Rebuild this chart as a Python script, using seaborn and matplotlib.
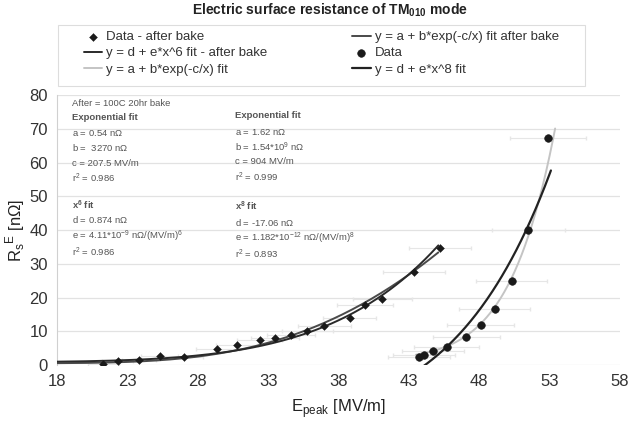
import numpy as np
import pandas as pd
import matplotlib
matplotlib.use("Agg")
import matplotlib.pyplot as plt
from matplotlib.patches import Rectangle
import seaborn as sns

# Measured data after the 100C 20hr bake
e_after = [21.3, 22.3, 23.8, 25.3, 27.0, 29.4, 30.8, 32.4, 33.5, 34.6,
           35.8, 37.0, 38.8, 39.9, 41.1, 43.4, 45.2]
rs_after = [0.3, 1.3, 1.4, 2.7, 2.4, 4.9, 5.9, 7.4, 8.0, 8.8,
            10.2, 11.5, 13.8, 17.8, 19.5, 27.5, 34.6]
xerr_after = [1.1, 1.1, 1.2, 1.3, 1.4, 1.5, 1.5, 1.6, 1.7, 1.7,
              1.8, 1.9, 1.9, 2.0, 2.1, 2.2, 2.2]

# Measured data before bake
e_before = [43.7, 44.1, 44.7, 45.7, 47.1, 48.1, 49.1, 50.3, 51.5, 52.9]
rs_before = [2.5, 3.1, 4.1, 5.4, 8.3, 12.0, 16.5, 24.9, 39.9, 67.4]
xerr_before = [2.2, 2.2, 2.2, 2.3, 2.4, 2.4, 2.5, 2.5, 2.6, 2.7]

# Fit parameters
exp_after = dict(a=0.54, b=3270.0, c=207.5)
pow6_after = dict(d=0.874, e=4.11e-9)
exp_before = dict(a=1.62, b=1.54e9, c=904.0)
pow8_before = dict(d=-17.06, e=1.182e-12)

x_ticks = [18, 23, 28, 33, 38, 43, 48, 53, 58]
y_ticks = [0, 10, 20, 30, 40, 50, 60, 70, 80]

sns.set_style("white")
plt.rcParams["font.family"] = ["Liberation Sans", "DejaVu Sans"]
plt.rcParams["mathtext.fontset"] = "custom"
plt.rcParams["mathtext.rm"] = "Liberation Sans"
plt.rcParams["mathtext.bf"] = "Liberation Sans:bold"

W, H = 641, 428
fig = plt.figure(figsize=(W / 100, H / 100), dpi=100)
ax = fig.add_axes([0.089, 0.147, 0.878, 0.631])

# fitted curves
xa = np.linspace(18, 45.1, 200)
xb = np.linspace(43.5, 53.1, 200)
xc = np.linspace(43.5, 53.4, 200)
fits = pd.concat([
    pd.DataFrame({"x": xa, "y": exp_after["a"] + exp_after["b"] * np.exp(-exp_after["c"] / xa),
                  "fit": "exp_after"}),
    pd.DataFrame({"x": xa, "y": pow6_after["d"] + pow6_after["e"] * xa ** 6, "fit": "pow6"}),
    pd.DataFrame({"x": xc, "y": exp_before["a"] + exp_before["b"] * np.exp(-exp_before["c"] / xc),
                  "fit": "exp_before"}),
    pd.DataFrame({"x": xb, "y": pow8_before["d"] + pow8_before["e"] * xb ** 8, "fit": "pow8"}),
])

# faint horizontal error bars
ax.errorbar(e_after, rs_after, xerr=xerr_after, fmt="none", ecolor="#e6e6e6",
            elinewidth=0.8, capsize=1.5, zorder=1)
ax.errorbar(e_before, rs_before, xerr=xerr_before, fmt="none", ecolor="#e6e6e6",
            elinewidth=0.8, capsize=1.5, zorder=1)

styles = {
    "exp_before": ("#c4c4c4", 1.4, "y = a + b*exp(-c/x) fit"),
    "exp_after": ("#4a4a4a", 1.4, "y = a + b*exp(-c/x) fit after bake"),
    "pow6": ("#2a2a2a", 1.4, "y = d + e*x^6 fit - after bake"),
    "pow8": ("#222222", 1.6, "y = d + e*x^8 fit"),
}
handles = {}
for key, (col, lw, lab) in styles.items():
    sub = fits[fits["fit"] == key]
    sns.lineplot(data=sub, x="x", y="y", ax=ax, color=col, linewidth=lw,
                 label=lab, sort=False, zorder=3)
    handles[key] = ax.lines[-1]

sns.scatterplot(x=e_after, y=rs_after, ax=ax, marker="D", s=16, color="#1a1a1a",
                edgecolor="#1a1a1a", label="Data - after bake", zorder=4)
h_after = ax.collections[-1]
sns.scatterplot(x=e_before, y=rs_before, ax=ax, marker="o", s=30, color="#1a1a1a",
                edgecolor="#1a1a1a", label="Data", zorder=4)
h_before = ax.collections[-1]

ax.set_xlim(18, 58)
ax.set_ylim(0, 80)
ax.set_xticks(x_ticks)
ax.set_yticks(y_ticks)
ax.tick_params(axis="both", labelsize=12, colors="#cccccc", labelcolor="#333333",
               length=3, width=0.8, direction="out")
ax.grid(axis="y", color="#e2e2e2", linewidth=0.9)
ax.grid(axis="x", visible=False)
for s in ["top", "right", "bottom"]:
    ax.spines[s].set_visible(False)
ax.spines["left"].set_color("#d0d0d0")
ax.spines["left"].set_linewidth(0.8)

ax.set_xlabel(r"E$_{\mathregular{peak}}$ [MV/m]", fontsize=12, color="#222222", labelpad=6)
ax.set_ylabel(r"R$_{\mathregular{s}}$$^{\mathregular{E}}$ [n$\Omega$]", fontsize=12,
              color="#222222", labelpad=2)

fig.text(0.515, 1 - 10 / H, r"Electric surface resistance of TM$_{\mathbf{010}}$ mode",
         ha="center", va="center", fontsize=10, fontweight="bold", color="#222222")

if ax.legend_:
    ax.legend_.remove()

# legend frame and entries
fig.patches.append(Rectangle((58 / W, 1 - 86 / H), 527 / W, 61 / H, transform=fig.transFigure,
                             facecolor="white", edgecolor="#dddddd", linewidth=0.8))
leg_handles = [h_after, handles["pow6"], handles["exp_before"],
               handles["exp_after"], h_before, handles["pow8"]]
leg_labels = ["Data - after bake", "y = d + e*x^6 fit - after bake", "y = a + b*exp(-c/x) fit",
              "y = a + b*exp(-c/x) fit after bake", "Data", "y = d + e*x^8 fit"]
leg = fig.legend(leg_handles, leg_labels, ncol=2, loc="upper left",
                 bbox_to_anchor=(84 / W, 1 - 31 / H),
                 fontsize=9.5, frameon=False, handlelength=1.4,
                 handletextpad=0.3, labelspacing=0.3, borderaxespad=0, borderpad=0,
                 columnspacing=6.4)
for t in leg.get_texts():
    t.set_color("#333333")

# fit parameter annotations
tc = "#555555"
fs = 6.8
left_lines = [
    ("After = 100C 20hr bake", "normal", 103),
    ("Exponential fit", "bold", 118),
    (r"a = 0.54 n$\Omega$", "normal", 133),
    (r"b =  3270 n$\Omega$", "normal", 148),
    ("c = 207.5 MV/m", "normal", 163),
    (r"r$^{2}$ = 0.986", "normal", 178),
    (r"x$^{\mathbf{6}}$ fit", "bold", 205),
    (r"d = 0.874 n$\Omega$", "normal", 220),
    (r"e = 4.11*10$^{-9}$ n$\Omega$/(MV/m)$^{6}$", "normal", 236),
    (r"r$^{2}$ = 0.986", "normal", 252),
]
right_lines = [
    ("Exponential fit", "bold", 116),
    (r"a = 1.62 n$\Omega$", "normal", 132),
    (r"b = 1.54*10$^{9}$ n$\Omega$", "normal", 147),
    ("c = 904 MV/m", "normal", 162),
    (r"r$^{2}$ = 0.999", "normal", 177),
    (r"x$^{\mathbf{8}}$ fit", "bold", 206),
    (r"d = -17.06 n$\Omega$", "normal", 222),
    (r"e = 1.182*10$^{-12}$ n$\Omega$/(MV/m)$^{8}$", "normal", 238),
    (r"r$^{2}$ = 0.893", "normal", 254),
]
for txt, w, ypx in left_lines:
    fig.text(72 / W, 1 - ypx / H, txt, fontsize=fs, fontweight=w, color=tc,
             va="center", ha="left")
for txt, w, ypx in right_lines:
    fig.text(235 / W, 1 - ypx / H, txt, fontsize=fs, fontweight=w, color=tc,
             va="center", ha="left")

fig.savefig("out.png", dpi=100, facecolor="white")
